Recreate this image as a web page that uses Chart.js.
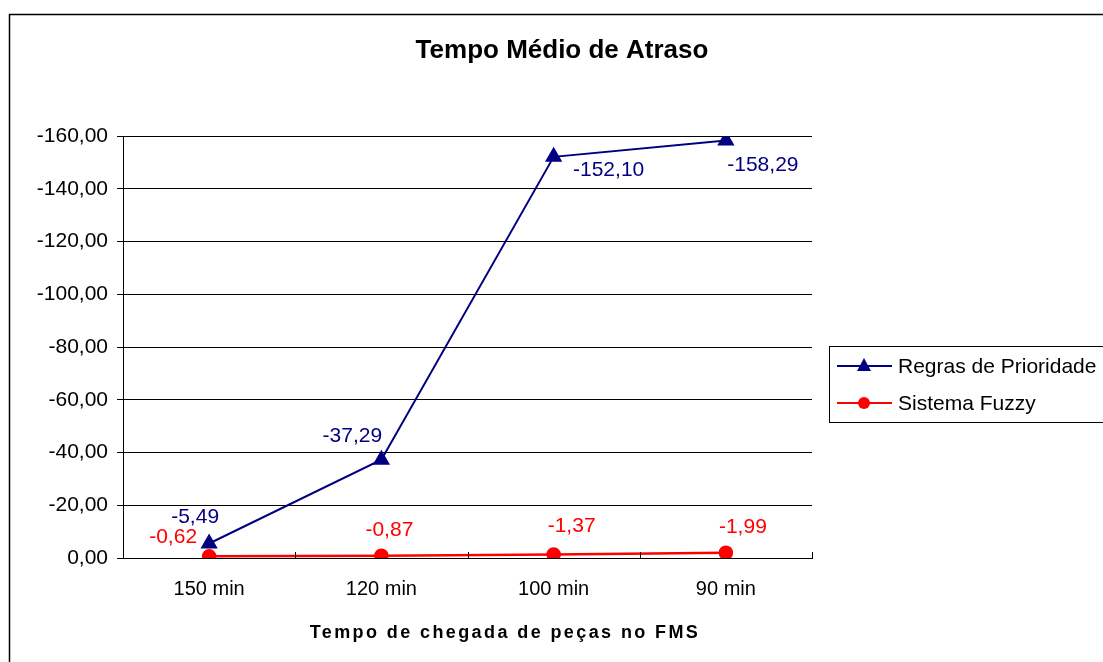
<!DOCTYPE html>
<html>
<head>
<meta charset="utf-8">
<script src="https://cdn.jsdelivr.net/npm/chart.js@4"></script>
<style>
  html, body { margin: 0; padding: 0; background: #fff; }
  #wrap { position: relative; width: 1103px; height: 662px; }
</style>
</head>
<body>
<div id="wrap"><canvas id="chart" width="1103" height="662"></canvas></div>
<script>
// --- Data ---
const categories = ['150 min', '120 min', '100 min', '90 min'];
const regrasValues = [-5.49, -37.29, -152.10, -158.29];
const fuzzyValues = [-0.62, -0.87, -1.37, -1.99];
const yTicks = [0, -20, -40, -60, -80, -100, -120, -140, -160];

// label offsets from each point (px), Excel put them in odd places
const regrasLabelOffsets = [[-14, -26], [-29, -23], [55, 13], [37, 25]];
const fuzzyLabelOffsets = [[-36, -19], [8, -26], [18, -28], [17, -26]];

const NAVY = '#000080';
const RED = '#ff0000';
const FONT = '"Liberation Sans", Arial, sans-serif';

const fmt = v => v.toFixed(2).replace('.', ',');

// --- Decorations: border, title, legend, data labels, axis title ---
const decor = {
    id: 'decor',
    afterDraw(chart) {
        const ctx = chart.ctx;
        const xs = chart.scales.x;
        const area = chart.chartArea;
        ctx.save();

        // outer frame
        ctx.strokeStyle = '#000';
        ctx.lineWidth = 1.5;
        ctx.strokeRect(9.5, 14.5, 1300, 800);

        // title
        ctx.fillStyle = '#000';
        ctx.textAlign = 'center';
        ctx.textBaseline = 'middle';
        ctx.font = 'bold 26px ' + FONT;
        ctx.fillText('Tempo Médio de Atraso', 562, 51);

        // x axis title
        ctx.font = 'bold 18px ' + FONT;
        ctx.letterSpacing = '2.4px';
        ctx.fillText('Tempo de chegada de peças no FMS', 505, 633);
        ctx.letterSpacing = '0px';

        // small inward tick marks at category boundaries
        ctx.lineWidth = 1;
        for (let i = 0; i <= categories.length; i++) {
            const x = Math.round(xs.getPixelForValue(i - 0.5)) + 0.5;
            ctx.beginPath();
            ctx.moveTo(x, area.bottom);
            ctx.lineTo(x, area.bottom - 6);
            ctx.stroke();
        }

        // data labels
        ctx.font = '21px ' + FONT;
        const sets = [[0, regrasLabelOffsets, NAVY], [1, fuzzyLabelOffsets, RED]];
        sets.forEach(([di, offs, col]) => {
            const meta = chart.getDatasetMeta(di);
            const vals = chart.data.datasets[di].data;
            ctx.fillStyle = col;
            meta.data.forEach((pt, i) => {
                ctx.fillText(fmt(vals[i]), pt.x + offs[i][0], pt.y + offs[i][1]);
            });
        });

        // legend
        ctx.strokeStyle = '#000';
        ctx.lineWidth = 1;
        ctx.strokeRect(829.5, 346.5, 300, 76);
        const items = [['Regras de Prioridade', NAVY, 'triangle', 366], ['Sistema Fuzzy', RED, 'circle', 403]];
        ctx.textAlign = 'left';
        items.forEach(([txt, col, shape, y]) => {
            ctx.strokeStyle = col;
            ctx.fillStyle = col;
            ctx.lineWidth = 2;
            ctx.beginPath();
            ctx.moveTo(837, y);
            ctx.lineTo(892, y);
            ctx.stroke();
            ctx.beginPath();
            if (shape === 'circle') {
                ctx.arc(864, y, 6, 0, Math.PI * 2);
            } else {
                ctx.moveTo(864, y - 8);
                ctx.lineTo(871, y + 5);
                ctx.lineTo(857, y + 5);
                ctx.closePath();
            }
            ctx.fill();
            ctx.fillStyle = '#000';
            ctx.fillText(txt, 898, y + 1);
        });

        ctx.restore();
    }
};

new Chart(document.getElementById('chart'), {
    type: 'line',
    data: {
        labels: categories,
        datasets: [{
            label: 'Regras de Prioridade',
            data: regrasValues,
            borderColor: NAVY,
            backgroundColor: NAVY,
            borderWidth: 2,
            pointStyle: 'triangle',
            pointRadius: 8,
            tension: 0
        }, {
            label: 'Sistema Fuzzy',
            data: fuzzyValues,
            borderColor: RED,
            backgroundColor: RED,
            borderWidth: 2.5,
            pointStyle: 'circle',
            pointRadius: 6,
            tension: 0
        }]
    },
    options: {
        responsive: false,
        animation: false,
        layout: { padding: { top: 136, right: 291, bottom: 0, left: 0 } },
        scales: {
            x: {
                offset: true,
                grid: { display: false, drawTicks: false },
                border: { color: '#000', width: 1 },
                ticks: { color: '#000', font: { family: FONT, size: 20 }, padding: 19 },
                afterFit: s => { s.height = 104; }
            },
            y: {
                reverse: true,
                min: -160,
                max: 0,
                afterBuildTicks: s => { s.ticks = yTicks.map(v => ({ value: v })); },
                grid: { color: '#000', lineWidth: 1, tickLength: 6, tickColor: '#000' },
                border: { color: '#000', width: 1 },
                ticks: { color: '#000', font: { family: FONT, size: 21 }, padding: 9, callback: v => fmt(v) },
                afterFit: s => { s.width = 123; }
            }
        },
        plugins: {
            legend: { display: false },
            title: { display: false },
            tooltip: { enabled: false }
        }
    },
    plugins: [decor]
});
</script>
</body>
</html>
